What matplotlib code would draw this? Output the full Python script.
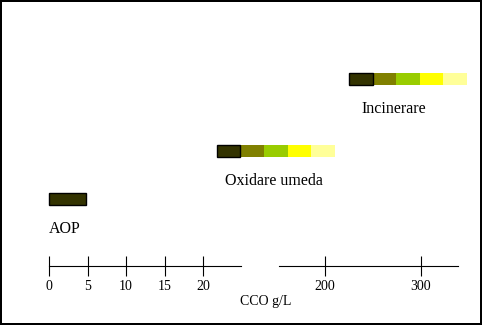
import matplotlib
matplotlib.use("Agg")
import matplotlib.pyplot as plt
from matplotlib.patches import Rectangle

plt.rcParams["font.family"] = ["Liberation Serif", "DejaVu Serif"]

# schematic: CCO range (g/L) where each treatment process applies
processes = ["AOP", "Oxidare umeda", "Incinerare"]
start_cco = [0, 21.8, 225]
segment_width = [4.8, 3.06, 24.6]
n_segments = [1, 5, 5]
levels = [1, 2, 3.5]
axis_side = ["left", "left", "right"]
segment_colors = ["#333300", "#808000", "#99cc00", "#ffff00", "#ffff99"]

left_ticks = [0, 5, 10, 15, 20]
right_ticks = [200, 300]
x_label = "CCO g/L"

W, H = 484, 327
fig = plt.figure(figsize=(W / 100, H / 100), dpi=100)


def px_box(x0, x1, ytop, ybot):
    return [x0 / W, 1 - ybot / H, (x1 - x0) / W, (ybot - ytop) / H]


ax_l = fig.add_axes(px_box(49, 241, 60, 265.5))
ax_r = fig.add_axes(px_box(279, 458, 60, 265.5))
ax_l.set_xlim(0, 192 / 7.7)
ax_r.set_xlim(152.1, 338.5)

for ax, ticks in ((ax_l, left_ticks), (ax_r, right_ticks)):
    ax.set_ylim(-0.375, 3.905)
    ax.patch.set_visible(False)
    for s in ("left", "right", "top"):
        ax.spines[s].set_visible(False)
    ax.spines["bottom"].set_linewidth(0.8)
    ax.set_yticks([])
    ax.set_xticks(ticks)
    ax.tick_params(axis="x", direction="inout", length=14.4, width=0.8,
                   pad=3, labelsize=10)

label_dx = [-3, -2, -14]
for name, x0, w, n, lev, side, dx in zip(processes, start_cco, segment_width,
                                         n_segments, levels, axis_side, label_dx):
    ax = ax_l if side == "left" else ax_r
    for i in range(n):
        first = i == 0
        ax.barh(lev, w, left=x0 + i * w, height=0.25,
                color=segment_colors[i],
                edgecolor="black" if first else segment_colors[i],
                linewidth=1.0 if first else 0,
                zorder=3 if first else 2, clip_on=False)
    ax.annotate(name, xy=(x0 + n * w / 2, lev), xytext=(dx * 0.72, -34 * 0.72),
                textcoords="offset points", ha="center", va="baseline",
                fontsize=11.5, annotation_clip=False)

fig.text(266 / W, 1 - 302 / H, x_label, ha="center", va="center", fontsize=10)

fig.add_artist(Rectangle((1 / W, 3 / H), 480 / W, 323 / H, fill=False,
                         linewidth=1.44, edgecolor="black",
                         transform=fig.transFigure))

fig.savefig("out.png", dpi=100)
